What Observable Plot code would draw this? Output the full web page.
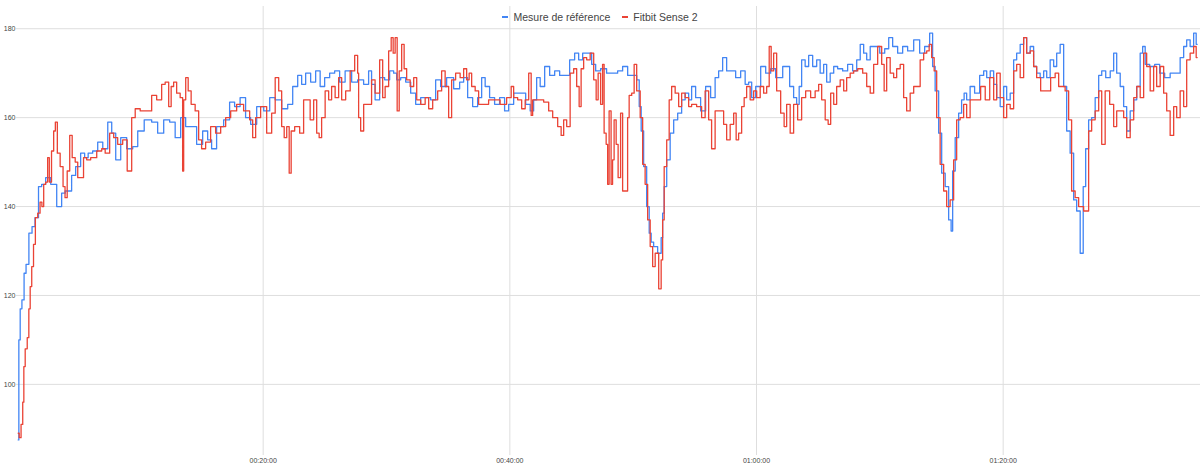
<!DOCTYPE html>
<html><head><meta charset="utf-8">
<script src="https://cdn.jsdelivr.net/npm/d3@7"></script>
<script src="https://cdn.jsdelivr.net/npm/@observablehq/plot@0.6"></script>
<style>
body{margin:0;background:#fff;font-family:Arial,"Liberation Sans",sans-serif;}
#wrap{position:relative;width:1200px;height:470px;}
#legend{position:absolute;top:10px;left:0;width:1200px;display:flex;justify-content:center;gap:12px;font-size:10.5px;color:#444;line-height:14px;}
#legend span.sw{display:inline-block;width:6px;height:2px;vertical-align:middle;margin-right:5px;position:relative;top:-1px;}
</style></head>
<body>
<div id="wrap"><div id="legend"></div></div>
<script>
const seriesNames = ["Mesure de référence", "Fitbit Sense 2"];
const seriesColors = ["#4285F4", "#EA4335"];
const yTicks = [100, 120, 140, 160, 180];
const xTicks = [20, 40, 60, 80]; // minutes -> 00:20:00 ...

// Reference measurement: elapsed minutes / bpm
const refTime = [0.14,0.24,0.36,0.52,0.71,0.84,1.17,1.35,1.65,1.92,2.16,2.57,2.98,3.54,3.78,4.11,4.35,4.59,5.00,5.40,5.65,5.97,6.38,6.79,7.20,7.60,7.84,8.25,8.65,9.22,9.63,10.03,10.68,11.24,11.65,12.22,12.62,13.11,13.51,13.92,14.32,14.89,15.30,15.70,15.94,16.51,17.08,17.48,17.89,18.37,18.78,19.19,19.76,20.33,20.73,21.22,21.79,22.19,22.60,23.00,23.24,23.65,24.05,24.46,24.78,25.19,25.59,26.00,26.40,26.89,27.46,27.86,28.43,28.67,28.91,29.24,29.65,30.05,30.46,30.70,30.95,31.35,31.76,32.16,32.57,32.97,33.38,33.78,34.19,34.59,35.16,35.73,36.13,36.38,36.78,37.19,37.59,37.84,38.16,38.56,38.97,39.37,39.78,40.03,40.59,41.08,41.49,41.81,42.05,42.30,42.62,43.03,43.43,43.84,44.24,44.65,45.05,45.46,45.70,46.11,46.51,46.76,47.16,47.56,48.13,48.54,48.94,49.35,49.76,50.16,50.41,50.57,50.73,50.97,51.22,51.38,51.54,51.78,52.19,52.35,52.43,52.60,52.84,53.16,53.41,53.81,54.05,54.38,54.62,54.86,55.27,55.67,56.08,56.48,56.81,57.05,57.46,57.70,58.11,58.51,58.92,59.24,59.49,59.73,60.14,60.54,60.95,61.35,61.76,62.49,62.89,63.13,63.38,63.54,63.78,64.11,64.35,64.76,65.00,65.32,65.57,65.81,66.14,66.38,66.78,67.19,67.59,68.00,68.25,68.57,68.81,69.06,69.38,69.79,70.19,70.60,70.84,71.24,71.65,72.05,72.46,73.03,73.43,73.84,74.24,74.32,74.65,74.89,75.14,75.46,75.70,75.86,75.95,76.27,76.51,76.75,76.92,77.16,77.48,77.89,78.30,78.54,78.79,79.11,79.35,79.60,79.92,80.16,80.41,80.73,80.97,81.22,81.54,81.78,82.03,82.35,82.59,82.84,83.16,83.41,83.65,83.97,84.22,84.46,84.78,85.03,85.27,85.59,85.84,86.08,86.41,86.57,86.81,87.05,87.30,87.62,87.87,88.11,88.52,88.84,89.08,89.33,89.65,89.89,90.14,90.46,90.71,90.95,91.27,91.35,91.68,92.08,92.49,92.89,93.30,93.78,94.19,94.51,94.76,95.00,95.32,95.57,95.73];
const refBpm = [87.5,110,117,119,125,127,134,135.5,137.5,144.5,145,146.5,145,140,143,143.5,143.5,147,149,152,151,152,152.5,154.5,153,159,156.5,150.5,155.5,153,153.5,157,159.5,159,156.5,159.5,159,155.5,160,158,158,154,157,155,153,158,159.5,163.5,162.5,164.5,160,158.5,162.5,161.5,164.5,164,162,163,167,169.5,167.5,170,168,170.5,167,169,170,170.5,168,170.5,168,168.5,167.5,170.5,167.5,164,169,168.5,170.5,170,168.5,169,168,165.5,163,164.5,164.5,164,168.5,167,169,166.5,168,169,164.5,162.5,164.5,169,167,164.5,163,164.5,161.5,163,165.5,165.5,163,161.5,164,169,167,171.5,169.5,170.5,169.5,169.5,173,174.5,173,174.5,174.5,172,170.5,171,170,170,170.5,171.5,169.5,169.5,168.5,162.5,157,149,140,134,132,131,129.5,133,138.5,144.5,150.5,156.5,159.5,161,164,165.5,164,167,164.5,161.5,167,164.5,169,170.5,173.5,170.5,170.5,169,170.5,167.5,168,164.5,167,171.5,170,171,169,171.5,167,164.5,163,167,173,171.5,174,171.5,173,170,172,168,170,171.5,171,170.5,172,170.5,173,176.5,174.5,173,176,176,174.5,175.5,178,176,174.5,176,175,177.5,174.5,176,179,171.5,166,156.5,147.5,144.5,137,134.5,148,155.5,161,164,165.5,164,167,165.5,169.5,170.5,169,170.5,167.5,164.5,162.5,167,164,165.5,173,174.5,176.5,178,174.5,176,171.5,170,169,170.5,169,173,171.5,174.5,176.5,167,157,152,141.5,139,129.5,144.5,153,159.5,160,164.5,169.5,170.5,169,170.5,174.5,170,167,162.5,157,161.5,164,167,174.5,176,172,171.5,172,170,169,170,170,173.5,176,177.5,176,179,176.5];

// Fitbit Sense 2: elapsed minutes / bpm
const fitTime = [0.14,0.30,0.44,0.57,0.62,0.79,0.95,1.05,1.17,1.30,1.46,1.60,1.84,1.98,2.14,2.27,2.46,2.59,2.73,2.95,3.08,3.22,3.40,3.68,3.87,4.00,4.22,4.41,4.62,4.90,5.03,5.30,5.57,5.81,6.22,6.79,7.03,7.35,7.76,8.00,8.41,8.81,9.14,9.22,9.46,9.79,10.27,10.84,11.08,11.65,11.89,12.22,12.46,12.62,12.86,13.11,13.43,13.51,13.60,13.84,14.00,14.32,14.65,14.89,15.13,15.54,15.94,16.35,16.76,17.16,17.57,18.13,18.70,19.11,19.19,19.59,20.00,20.57,20.81,21.14,21.38,21.62,21.79,22.03,22.19,22.35,22.76,23.16,23.40,23.65,23.97,24.22,24.46,24.62,24.86,25.19,25.43,25.67,26.00,26.24,26.49,26.89,27.22,27.62,27.70,27.78,28.03,28.27,28.67,28.91,29.24,29.65,29.73,30.05,30.30,30.46,30.62,30.78,30.95,31.11,31.35,31.51,31.76,32.08,32.33,32.57,32.97,33.30,33.54,33.95,34.35,34.59,34.92,35.16,35.40,35.81,36.13,36.38,36.62,36.78,37.03,37.35,37.59,38.16,38.40,38.97,39.45,40.03,40.19,40.43,40.84,41.08,41.41,41.65,41.81,41.89,42.46,43.03,43.27,43.68,44.08,44.24,44.49,44.73,45.05,45.30,45.54,45.70,45.86,46.11,46.35,46.68,46.92,47.08,47.24,47.48,47.56,47.73,47.89,47.97,48.13,48.29,48.37,48.54,48.70,48.86,49.10,49.19,49.51,49.59,49.76,50.00,50.16,50.41,50.73,50.81,51.13,51.22,51.54,51.62,51.95,52.19,52.35,52.43,52.60,52.84,53.00,53.24,53.57,53.81,54.05,54.38,54.62,54.86,55.43,55.67,56.00,56.24,56.48,56.81,57.21,57.46,57.70,58.03,58.27,58.43,58.67,58.92,59.08,59.32,59.65,59.89,60.14,60.46,60.70,60.95,61.11,61.27,61.51,61.76,62.16,62.32,62.57,62.89,63.13,63.54,63.78,64.19,64.59,64.92,65.16,65.41,65.73,65.89,66.14,66.38,66.62,66.95,67.19,67.43,67.76,68.00,68.41,68.81,69.06,69.38,69.62,70.03,70.27,70.43,70.68,71.00,71.24,71.49,71.81,72.05,72.30,72.62,72.87,73.11,73.43,73.68,73.92,74.08,74.32,74.49,74.73,75.05,75.30,75.54,75.86,76.11,76.35,76.67,76.92,77.16,77.48,77.97,78.38,78.71,79.11,79.35,79.60,79.92,80.16,80.41,80.73,80.97,81.22,81.54,81.78,82.03,82.35,82.59,82.84,83.24,83.65,84.05,84.38,84.62,84.86,85.19,85.43,85.67,86.00,86.24,86.81,87.05,87.30,87.62,87.87,88.11,88.43,88.84,89.08,89.33,89.65,89.89,90.14,90.46,90.71,90.95,91.27,91.51,91.76,92.08,92.32,92.57,92.89,93.14,93.38,93.70,93.95,94.19,94.51,94.76,95.00,95.32,95.57,95.73];
const fitBpm = [89,88,91,96,104,108,110.5,117,122,126.5,131.5,137.5,138.5,141,140,145,145.5,151,145.5,152.5,157,159,152,149,144.5,142,148,156,151,150,146.5,146.5,151,150.5,151,152.5,153,152,156.5,155.5,154,155,148,148,160,162,161.5,161.5,165,164,167.5,168,162.5,167,168,165.5,164.5,148,164,169,166,163,161.5,155,153,154.5,158,156.5,158,160,161.5,163,161.5,159.5,155.5,160,162.5,156.5,161,169,166,158,155.5,158,147.5,157,158,156.5,164,164,159.5,164,156.5,155.5,160,166,164,167,164.5,169,164,166,170.5,174,170,160,157,163,163,168.5,165.5,173,164.5,167,175,178,174.5,178,161.5,170.5,176.5,171,168.5,167,169,164,163,164.5,162,164,166,170.5,167,160,168.5,170,169,171,168.5,170,167,166,163,163,164,164,163,164.5,167,164.5,164,162,164,170,160.5,164,164,163.5,161.5,160,158,156,159.5,158,170,171,167,162.5,171,173.5,173,174.5,168.5,164,170,163,172,156.5,154,145,161.5,145,150.5,159.5,154,146.5,161,143.5,143.5,160,165,165.5,172,166,160,149.5,145,137,131,126.5,129.5,121.5,128,137,149,155,164,167,165.5,162.5,165.5,164.5,162.5,163,162.5,160,166,159.5,153,161.5,161.5,158.5,155,158.5,161,155,156.5,162.5,164.5,167,164,166,164.5,167,165.5,167,176,170.5,174.5,166,161,158,163,156.5,163,159.5,164.5,166,164.5,166,167.5,164,159.5,158.5,165.5,163,167,168.5,166,169,170,170.5,171,170,167,165.5,172,176,172,166,173.5,170,169,171,172,164.5,161.5,165.5,167,167,173,174.5,175,176.5,173.5,170.5,160,149.5,143.5,140,141.5,150.5,159.5,160,163,160,164,164,167,164,169,164,170,164.5,160,163,162,170.5,172,169,178,174.5,175,171.5,169,166,166,169,170,167,167,166,159.5,143.5,142,140,139,157,159.5,161.5,166,154,166,163,158,161.5,161.5,160,155.5,159.5,164.5,167,164.5,174.5,171.5,166,171.5,167,171.5,165.5,161.5,156,162.5,160,166,162.5,173,174.5,176,173.5];

const refData = refTime.map((t, i) => ({t, bpm: refBpm[i]}));
const fitData = fitTime.map((t, i) => ({t, bpm: fitBpm[i]}));

const pad = n => String(n).padStart(2, "0");
const fmtTime = m => `${pad(Math.floor(m / 60))}:${pad(m % 60)}:00`;

const legend = document.getElementById("legend");
seriesNames.forEach((name, i) => {
  const item = document.createElement("span");
  const sw = document.createElement("span");
  sw.className = "sw";
  sw.style.background = seriesColors[i];
  item.appendChild(sw);
  item.appendChild(document.createTextNode(name));
  legend.appendChild(item);
});

const chart = Plot.plot({
  width: 1200,
  height: 470,
  marginLeft: 16,
  marginRight: 0,
  marginTop: 6,
  marginBottom: 15,
  style: {fontFamily: "Arial, 'Liberation Sans', sans-serif", fontSize: "7px", color: "#444", background: "#fff"},
  x: {domain: [0, 96], label: null},
  y: {domain: [84, 185], label: null},
  marks: [
    Plot.ruleY(yTicks, {stroke: "#dedede", strokeWidth: 1, strokeOpacity: 1}),
    Plot.ruleX(xTicks, {stroke: "#dedede", strokeWidth: 1, strokeOpacity: 1}),
    Plot.axisY(yTicks, {tickSize: 0, tickPadding: 1, label: null, fill: "#444"}),
    Plot.axisX(xTicks, {tickSize: 0, tickPadding: 3, tickFormat: fmtTime, label: null, fill: "#444"}),
    Plot.lineY(refData, {x: "t", y: "bpm", stroke: seriesColors[0], strokeWidth: 1.3, curve: "step"}),
    Plot.lineY(fitData, {x: "t", y: "bpm", stroke: seriesColors[1], strokeWidth: 1.3, curve: "step"})
  ]
});
document.getElementById("wrap").insertBefore(chart, document.getElementById("legend"));
</script>
</body></html>
